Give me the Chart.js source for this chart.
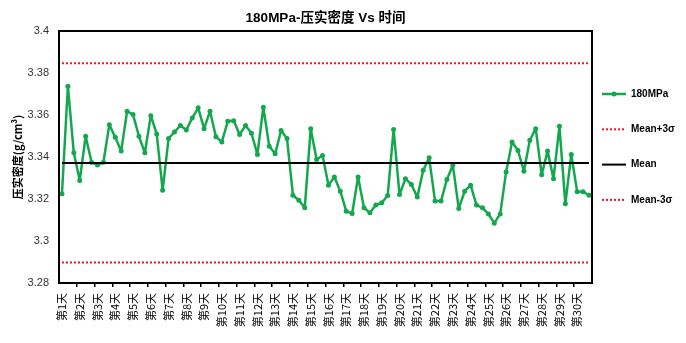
<!DOCTYPE html>
<html>
<head>
<meta charset="utf-8">
<script src="https://cdn.jsdelivr.net/npm/chart.js@4/dist/chart.umd.min.js"></script>
<style>
html,body{margin:0;padding:0;background:#fff;}
#wrap{width:686px;height:343px;position:relative;}
</style>
</head>
<body>
<div id="wrap"><canvas id="c" width="686" height="343"></canvas></div>
<script>
// ---- data ----
const days = ['第1天','第2天','第3天','第4天','第5天','第6天','第7天','第8天','第9天','第10天',
  '第11天','第12天','第13天','第14天','第15天','第16天','第17天','第18天','第19天','第20天',
  '第21天','第22天','第23天','第24天','第25天','第26天','第27天','第28天','第29天','第30天'];
const density = [
  3.3225,3.3737,3.3420, 3.3288,3.3499,3.3375, 3.3362,3.3375,3.3554, 3.3494,3.3428,3.3618,
  3.3602,3.3499,3.3420, 3.3597,3.3510,3.3242, 3.3488,3.3519,3.3550, 3.3529,3.3586,3.3634,
  3.3535,3.3618,3.3496, 3.3472,3.3570,3.3573, 3.3507,3.3550,3.3513, 3.3412,3.3637,3.3451,
  3.3415,3.3526,3.3488, 3.3218,3.3194,3.3158, 3.3535,3.3388,3.3407, 3.3266,3.3305,3.3237,
  3.3142,3.3131,3.3305, 3.3158,3.3134,3.3171, 3.3182,3.3217,3.3531, 3.3221,3.3297,3.3269,
  3.3209,3.3337,3.3396, 3.3190,3.3190,3.3293, 3.3361,3.3155,3.3237, 3.3266,3.3171,3.3158,
  3.3129,3.3085,3.3129, 3.3329,3.3472,3.3431, 3.3332,3.3480,3.3535, 3.3316,3.3428,3.3297,
  3.3546,3.3177,3.3412, 3.3234,3.3234,3.3218
];
const meanValue = 3.3372;
const upperValue = 3.3846;
const lowerValue = 3.2898;
const yTicks = [3.28, 3.3, 3.32, 3.34, 3.36, 3.38, 3.4];
const seriesNames = ['180MPa', 'Mean+3σ', 'Mean', 'Mean-3σ'];
const titleText = '180MPa-压实密度 Vs 时间';
const yTitle = '压实密度(g/cm³)';

// ---- derived ----
const perDay = density.length / days.length;
const labels = density.map((_, i) => i % perDay === 0 ? days[i / perDay] : '');
const meanLine = density.map(() => meanValue);
const upperLine = density.map(() => upperValue);
const lowerLine = density.map(() => lowerValue);

const FONT = "'Liberation Sans', 'Noto Sans CJK SC', sans-serif";
const GREEN = '#14A84E';
const RED = '#F0141E';

const frameAndLegend = {
  id: 'frameAndLegend',
  afterDatasetsDraw(chart) {
    const ctx = chart.ctx, a = chart.chartArea;
    ctx.save();
    ctx.strokeStyle = '#000';
    ctx.lineWidth = 2;
    ctx.strokeRect(a.left, a.top, a.right - a.left, a.bottom - a.top);
    ctx.restore();
  },
  afterDraw(chart) {
    const ctx = chart.ctx;
    const x0 = 602, x1 = 626, tx = 631;
    let y = 94;
    const step = 35.3;
    ctx.save();
    chart.data.datasets.forEach(ds => {
      ctx.beginPath();
      ctx.strokeStyle = ds.borderColor;
      ctx.lineWidth = ds.borderWidth;
      ctx.setLineDash(ds.borderDash || []);
      ctx.moveTo(x0, y); ctx.lineTo(x1, y);
      ctx.stroke();
      ctx.setLineDash([]);
      if (ds.pointRadius > 0) {
        ctx.beginPath();
        ctx.fillStyle = ds.borderColor;
        ctx.arc((x0 + x1) / 2, y, ds.pointRadius, 0, Math.PI * 2);
        ctx.fill();
      }
      ctx.fillStyle = '#000';
      ctx.font = "bold 10px " + FONT;
      ctx.textBaseline = 'middle';
      ctx.textAlign = 'left';
      ctx.fillText(ds.label, tx, y);
      y += step;
    });
    ctx.restore();
  }
};

new Chart(document.getElementById('c'), {
  type: 'line',
  data: {
    labels: labels,
    datasets: [
      { label: seriesNames[0], data: density, borderColor: GREEN, backgroundColor: GREEN,
        borderWidth: 2.5, pointRadius: 2.5, pointBackgroundColor: GREEN, pointBorderWidth: 0,
        borderJoinStyle: 'round', borderCapStyle: 'round', tension: 0, order: 1 },
      { label: seriesNames[1], data: upperLine, borderColor: RED, borderWidth: 2,
        borderDash: [2, 2], pointRadius: 0, order: 0 },
      { label: seriesNames[2], data: meanLine, borderColor: '#000', borderWidth: 2,
        pointRadius: 0, order: 0 },
      { label: seriesNames[3], data: lowerLine, borderColor: RED, borderWidth: 2,
        borderDash: [2, 2], pointRadius: 0, order: 0 }
    ]
  },
  options: {
    responsive: false,
    animation: false,
    layout: { padding: { left: 0, right: 94, top: 0, bottom: 0 } },
    plugins: {
      legend: { display: false },
      tooltip: { enabled: false },
      title: {
        display: true, text: titleText, color: '#000', fullSize: false,
        font: { family: FONT, size: 13.5, weight: 'bold' },
        padding: { top: 10, bottom: 4.8 }
      }
    },
    scales: {
      x: {
        type: 'category',
        offset: true,
        afterFit(s) { s.height = 60; },
        border: { display: true, color: '#000', width: 2 },
        grid: {
          offset: true, drawOnChartArea: false, drawTicks: true, tickLength: 4,
          color: c => (c.index % perDay === 0 && c.index > 0) ? '#000' : 'rgba(0,0,0,0)',
          tickColor: c => (c.index % perDay === 0 && c.index > 0) ? '#000' : 'rgba(0,0,0,0)',
          lineWidth: 1.5, tickWidth: 1.5
        },
        ticks: {
          autoSkip: false, minRotation: 90, maxRotation: 90, padding: 6,
          color: '#000', font: { family: "'Noto Sans CJK SC', sans-serif", size: 11 }
        }
      },
      y: {
        min: 3.28, max: 3.4,
        afterFit(s) { s.width = 59; },
        afterBuildTicks(s) { s.ticks = yTicks.map(v => ({ value: v })); },
        border: { display: true, color: '#000', width: 2 },
        grid: { drawOnChartArea: false, drawTicks: false },
        ticks: {
          padding: 10, color: '#333',
          font: { family: FONT, size: 11 },
          callback: v => String(Number(v.toFixed(2)))
        },
        title: {
          display: true, text: yTitle, color: '#000',
          font: { family: "'Noto Sans CJK SC', " + FONT, size: 11, weight: 'bold' },
          padding: { top: 11, bottom: 0 }
        }
      }
    }
  },
  plugins: [frameAndLegend]
});
</script>
</body>
</html>
